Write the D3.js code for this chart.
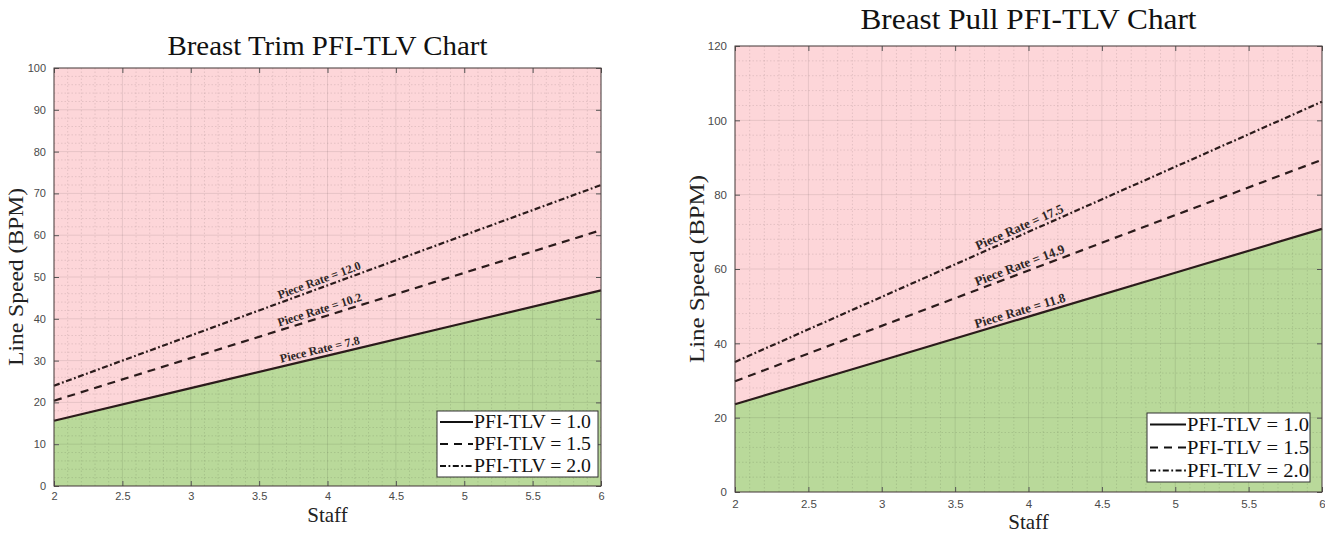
<!DOCTYPE html>
<html>
<head>
<meta charset="utf-8">
<script src="https://cdn.jsdelivr.net/npm/d3@7"></script>
<style>
  body { margin: 0; background: #fff; }
  svg { display: block; }
</style>
</head>
<body>
<svg id="chart" width="1325" height="536"></svg>
<script>
// values (line speed at each staff count)
const staff = [2, 3, 4, 5, 6];
const trimSpeed10 = [15.6, 23.4, 31.2, 39.0, 46.8];
const trimSpeed15 = [20.4, 30.6, 40.8, 51.0, 61.2];
const trimSpeed20 = [24.0, 36.0, 48.0, 60.0, 72.0];
const pullSpeed10 = [23.6, 35.4, 47.2, 59.0, 70.8];
const pullSpeed15 = [29.8, 44.7, 59.6, 74.5, 89.4];
const pullSpeed20 = [35.0, 52.5, 70.0, 87.5, 105.0];
const trimRates = ['7.8', '10.2', '12.0'];
const pullRates = ['11.8', '14.9', '17.5'];
const tlvLabels = ['1.0', '1.5', '2.0'];
const xTicks = [2, 2.5, 3, 3.5, 4, 4.5, 5, 5.5, 6];
const trimYTicks = [0, 10, 20, 30, 40, 50, 60, 70, 80, 90, 100];
const pullYTicks = [0, 20, 40, 60, 80, 100, 120];

const dashes = [null, '8,6', '6,2.5,1.8,2.5'];
const lineColor = '#2b1b1b';
const serif = '"Liberation Serif", "DejaVu Serif", serif';
const sans = '"Liberation Sans", Arial, sans-serif';

const svg = d3.select('#chart');

function drawPanel(cfg) {
  const g = svg.append('g');
  const x = d3.scaleLinear().domain([2, 6]).range([cfg.left, cfg.right]);
  const y = d3.scaleLinear().domain([0, cfg.yMax]).range([cfg.bottom, cfg.top]);

  // pink background
  g.append('rect')
    .attr('x', cfg.left).attr('y', cfg.top)
    .attr('width', cfg.right - cfg.left).attr('height', cfg.bottom - cfg.top)
    .attr('fill', '#fdd6d9');

  // green area under the PFI-TLV = 1.0 line
  const area = d3.area()
    .x((d, i) => x(staff[i]))
    .y0(y(0))
    .y1(d => y(d));
  g.append('path')
    .datum(cfg.series[0])
    .attr('d', area)
    .attr('fill', '#b9d99a');

  // minor grid
  const xMinor = d3.range(2, 6.0001, 0.1).filter(v => Math.abs(v * 2 - Math.round(v * 2)) > 1e-6);
  const yMinor = d3.range(0, cfg.yMax + 1e-6, cfg.yMinor).filter(v => Math.abs(v / cfg.yStep - Math.round(v / cfg.yStep)) > 1e-6);
  g.append('g').selectAll('line').data(xMinor).join('line')
    .attr('x1', d => x(d)).attr('x2', d => x(d))
    .attr('y1', cfg.top).attr('y2', cfg.bottom)
    .attr('stroke', 'rgba(0,0,0,0.13)').attr('stroke-width', 0.8)
    .attr('stroke-dasharray', '1.5,2');
  g.append('g').selectAll('line').data(yMinor).join('line')
    .attr('x1', cfg.left).attr('x2', cfg.right)
    .attr('y1', d => y(d)).attr('y2', d => y(d))
    .attr('stroke', 'rgba(0,0,0,0.13)').attr('stroke-width', 0.8)
    .attr('stroke-dasharray', '1.5,2');

  // major grid
  g.append('g').selectAll('line').data(xTicks).join('line')
    .attr('x1', d => x(d)).attr('x2', d => x(d))
    .attr('y1', cfg.top).attr('y2', cfg.bottom)
    .attr('stroke', 'rgba(0,0,0,0.09)').attr('stroke-width', 1);
  g.append('g').selectAll('line').data(cfg.yTicks).join('line')
    .attr('x1', cfg.left).attr('x2', cfg.right)
    .attr('y1', d => y(d)).attr('y2', d => y(d))
    .attr('stroke', 'rgba(0,0,0,0.09)').attr('stroke-width', 1);

  // series lines
  const line = d3.line().x((d, i) => x(staff[i])).y(d => y(d));
  cfg.series.forEach((s, i) => {
    g.append('path')
      .datum(s)
      .attr('d', line)
      .attr('fill', 'none')
      .attr('stroke', lineColor)
      .attr('stroke-width', 2.2)
      .attr('stroke-dasharray', dashes[i]);
  });

  // axes (MATLAB style: ticks inward, box around)
  const xAxis = d3.axisBottom(x).tickValues(xTicks).tickSize(-5).tickPadding(cfg.xPad)
    .tickFormat(d3.format('~g'));
  const yAxis = d3.axisLeft(y).tickValues(cfg.yTicks).tickSize(-5).tickPadding(8);
  const ax = g.append('g').attr('transform', `translate(0,${cfg.bottom})`).call(xAxis);
  const ay = g.append('g').attr('transform', `translate(${cfg.left},0)`).call(yAxis);
  g.append('g').attr('transform', `translate(0,${cfg.top})`)
    .call(d3.axisTop(x).tickValues(xTicks).tickSize(-5).tickFormat(''));
  g.append('g').attr('transform', `translate(${cfg.right},0)`)
    .call(d3.axisRight(y).tickValues(cfg.yTicks).tickSize(-5).tickFormat(''));
  g.selectAll('.domain').remove();
  g.selectAll('.tick line').attr('stroke', '#555').attr('stroke-width', 1);
  [ax, ay].forEach(a => a.selectAll('text')
    .style('fill', '#4a4a4a').style('font-family', sans).style('font-size', cfg.tickFont));

  g.append('rect')
    .attr('x', cfg.left).attr('y', cfg.top)
    .attr('width', cfg.right - cfg.left).attr('height', cfg.bottom - cfg.top)
    .attr('fill', 'none').attr('stroke', '#4a3f3f').attr('stroke-width', 1);

  // piece-rate labels along each line
  cfg.series.forEach((s, i) => {
    const sx = 3.95;
    const x0 = x(2), x1 = x(6);
    const y0 = y(s[0]), y1 = y(s[s.length - 1]);
    const px = x(sx);
    const py = y0 + (y1 - y0) * (px - x0) / (x1 - x0);
    const ang = Math.atan2(y1 - y0, x1 - x0) * 180 / Math.PI;
    g.append('text')
      .attr('transform', `translate(${px},${py - 4}) rotate(${ang})`)
      .attr('text-anchor', 'middle')
      .style('font-family', serif).style('font-size', cfg.rateFont).style('font-weight', 'bold')
      .attr('fill', '#2e2626')
      .text(`Piece Rate = ${cfg.rates[i]}`);
  });

  // legend
  const L = cfg.legend;
  const lg = g.append('g').attr('transform', `translate(${L.x},${L.y})`);
  lg.append('rect')
    .attr('width', L.w).attr('height', L.h)
    .attr('fill', '#fff').attr('stroke', '#333').attr('stroke-width', 1);
  tlvLabels.forEach((t, i) => {
    const ly = L.h / 6 + i * L.h / 3;
    lg.append('line')
      .attr('x1', 3).attr('x2', L.sample).attr('y1', ly).attr('y2', ly)
      .attr('stroke', '#111').attr('stroke-width', 2.2)
      .attr('stroke-dasharray', dashes[i]);
    lg.append('text')
      .attr('x', L.sample + 1).attr('y', ly + L.font * 0.33)
      .attr('textLength', L.textLen).attr('lengthAdjust', 'spacingAndGlyphs')
      .style('font-family', serif).style('font-size', L.font + 'px')
      .attr('fill', '#111')
      .text(`PFI-TLV = ${t}`);
  });

  // titles
  g.append('text')
    .attr('x', (cfg.left + cfg.right) / 2).attr('y', cfg.titleY)
    .attr('text-anchor', 'middle')
    .attr('textLength', cfg.titleLen).attr('lengthAdjust', 'spacingAndGlyphs')
    .style('font-family', serif).style('font-size', cfg.titleFont)
    .attr('fill', '#111')
    .text(cfg.title);
  g.append('text')
    .attr('x', (cfg.left + cfg.right) / 2).attr('y', cfg.bottom + cfg.staffDy)
    .attr('text-anchor', 'middle')
    .style('font-family', serif).style('font-size', '21px')
    .attr('fill', '#222')
    .text('Staff');
  g.append('text')
    .attr('transform', `translate(${cfg.left - 31},${(cfg.top + cfg.bottom) / 2}) rotate(-90)`)
    .attr('text-anchor', 'middle')
    .attr('textLength', cfg.yLabelLen).attr('lengthAdjust', 'spacingAndGlyphs')
    .style('font-family', serif).style('font-size', '22px')
    .attr('fill', '#222')
    .text('Line Speed (BPM)');
}

drawPanel({
  left: 54, right: 601, top: 68, bottom: 486,
  yMax: 100, yStep: 10, yMinor: 2, yTicks: trimYTicks,
  series: [trimSpeed10, trimSpeed15, trimSpeed20],
  rates: trimRates, rateFont: '12px', tickFont: '11px', xPad: 6, staffDy: 36,
  title: 'Breast Trim PFI-TLV Chart', titleY: 55, titleLen: 320, titleFont: '28px',
  yLabelLen: 178,
  legend: { x: 437, y: 411, w: 161, h: 66, sample: 36, textLen: 117, font: 18 }
});

drawPanel({
  left: 735, right: 1322, top: 46, bottom: 492,
  yMax: 120, yStep: 20, yMinor: 4, yTicks: pullYTicks,
  series: [pullSpeed10, pullSpeed15, pullSpeed20],
  rates: pullRates, rateFont: '13px', tickFont: '11.5px', xPad: 8, staffDy: 37,
  title: 'Breast Pull PFI-TLV Chart', titleY: 29, titleLen: 336, titleFont: '29px',
  yLabelLen: 188,
  legend: { x: 1147, y: 413, w: 163, h: 69, sample: 39, textLen: 122, font: 19 }
});
</script>
</body>
</html>
